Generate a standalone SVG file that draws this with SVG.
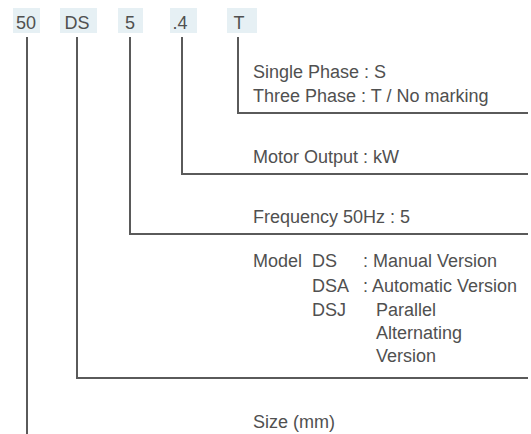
<svg xmlns="http://www.w3.org/2000/svg" width="531" height="434" viewBox="0 0 531 434">
<style>
text{font-family:"Liberation Sans",Arial,sans-serif;font-size:18px;fill:#505050}
.code{text-anchor:middle}
.bg{fill:#e6f0f4}
.ln{fill:none;stroke:#5a5a5a;stroke-width:2}
</style>
<rect width="531" height="434" fill="#ffffff"/>
<g id="code-50"><rect class="bg" x="13" y="8" width="27" height="25"/><text class="code" x="26" y="29">50</text></g>
<g id="code-DS"><rect class="bg" x="60" y="8" width="37" height="25"/><text class="code" x="77" y="29">DS</text></g>
<g id="code-5"><rect class="bg" x="118" y="8" width="25" height="25"/><text class="code" x="130" y="29">5</text></g>
<g id="code-4"><rect class="bg" x="170" y="8" width="27" height="25"/><text class="code" x="180" y="29">.4</text></g>
<g id="code-T"><rect class="bg" x="227" y="8" width="30" height="25"/><text class="code" x="239" y="29">T</text></g>
<g id="connectors">
<polyline class="ln" points="238,37 238,113 528,113"/>
<polyline class="ln" points="182,37 182,174 528,174"/>
<polyline class="ln" points="130,37 130,234 528,234"/>
<polyline class="ln" points="77,37 77,378 528,378"/>
<polyline class="ln" points="27,37 27,434"/>
</g>
<g id="phase"><text x="253" y="78">Single Phase : S</text><text x="253" y="102">Three Phase : T / No marking</text></g>
<g id="motor"><text x="253" y="163">Motor Output : kW</text></g>
<g id="frequency"><text x="253" y="223">Frequency 50Hz : 5</text></g>
<g id="model">
<text x="253" y="267">Model</text>
<text x="312" y="267">DS</text><text x="363" y="267">: Manual Version</text>
<text x="312" y="292">DSA</text><text x="363" y="292">: Automatic Version</text>
<text x="312" y="316">DSJ</text><text x="376" y="316">Parallel</text>
<text x="376" y="339">Alternating</text>
<text x="376" y="362">Version</text>
</g>
<g id="size"><text x="253" y="428">Size (mm)</text></g>
</svg>
